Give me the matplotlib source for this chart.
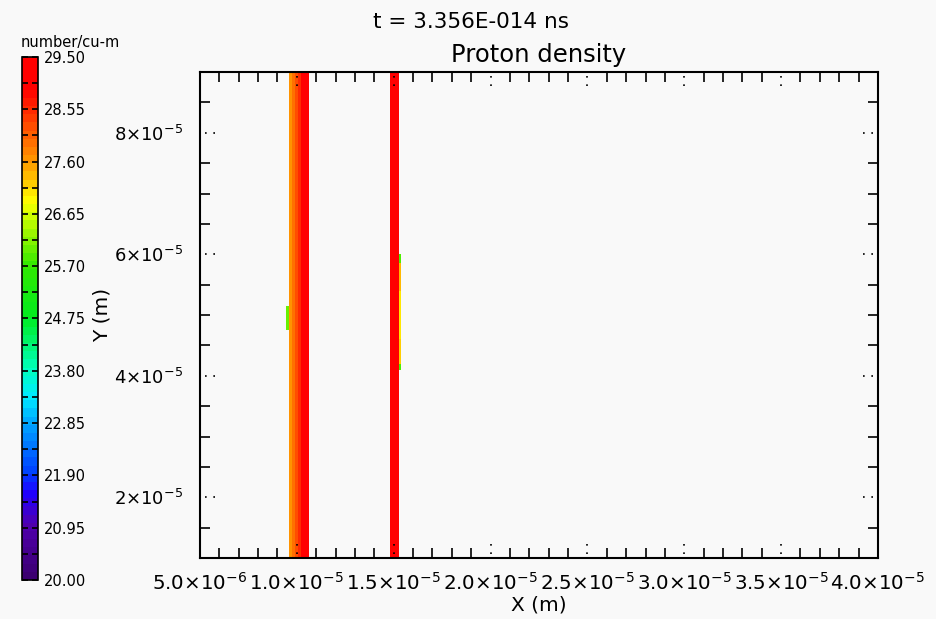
import numpy as np
import matplotlib
matplotlib.use('Agg')
import matplotlib.pyplot as plt
from matplotlib.colors import LinearSegmentedColormap, ListedColormap, Normalize

# colour scale for the density
vmin, vmax = 20.0, 29.5
cbar_ticks = [20.00, 20.95, 21.90, 22.85, 23.80, 24.75, 25.70, 26.65, 27.60, 28.55, 29.50]

# rainbow-like table: purple -> blue -> cyan -> green -> yellow -> red
cmap_nodes = [20.0, 20.95, 21.5, 21.9, 22.85, 23.3, 23.8, 24.75, 25.7, 26.65, 26.9, 27.6, 28.55, 29.0, 29.5]
cmap_colors = ['#3c0070', '#5000b0', '#2000ff', '#0040ff', '#00a8ff', '#00ecff', '#00ffc0',
               '#00ee20', '#30e800', '#d0ff00', '#ffff00', '#ffa000', '#ff3000', '#ff0000', '#ff0000']

# left layer: column edges in x and density per column
layer1_x = [9.6e-6, 9.75e-6, 9.9e-6, 10.05e-6, 10.2e-6, 10.35e-6, 10.5e-6, 10.65e-6]
layer1_vals = [27.7, 27.95, 28.2, 28.6, 29.0, 29.35, 29.3]

# right layer
layer2_x = [14.8e-6, 15.0e-6, 15.25e-6]
layer2_vals = [29.3, 29.4]

layer_y = [1.0e-5, 9.0e-5]

# small patch on the left edge of the left layer
patch1_x = [9.45e-6, 9.6e-6]
patch1_y = [4.75e-5, 5.15e-5]
patch1_vals = [26.0]

# thin patch on the right edge of the right layer
patch2_x = [15.25e-6, 15.4e-6]
patch2_y = [4.1e-5, 4.2e-5, 4.6e-5, 5.4e-5, 5.85e-5, 6.0e-5]
patch2_vals = [25.9, 27.2, 27.0, 27.3, 25.9]

# axis ticks
x_ticks = [5e-6, 10e-6, 15e-6, 20e-6, 25e-6, 30e-6, 35e-6, 40e-6]
x_tick_labels = [r'$5.0{\times}10^{-6}$', r'$1.0{\times}10^{-5}$', r'$1.5{\times}10^{-5}$',
                 r'$2.0{\times}10^{-5}$', r'$2.5{\times}10^{-5}$', r'$3.0{\times}10^{-5}$',
                 r'$3.5{\times}10^{-5}$', r'$4.0{\times}10^{-5}$']
y_ticks = [2e-5, 4e-5, 6e-5, 8e-5]
y_tick_labels = [r'$2{\times}10^{-5}$', r'$4{\times}10^{-5}$', r'$6{\times}10^{-5}$', r'$8{\times}10^{-5}$']

bg = '#f9f9f9'
base = LinearSegmentedColormap.from_list(
    'dens', [((v - vmin) / (vmax - vmin), c) for v, c in zip(cmap_nodes, cmap_colors)])
cmap = ListedColormap(base(np.linspace(0, 1, 64)))
norm = Normalize(vmin=vmin, vmax=vmax)

fig = plt.figure(figsize=(9.37, 6.19), dpi=100, facecolor=bg)
ax = fig.add_axes([0.2134, 0.0985, 0.7236, 0.785], facecolor=bg)

mesh = ax.pcolormesh(layer1_x, layer_y, np.array([layer1_vals]), cmap=cmap, norm=norm)
ax.pcolormesh(layer2_x, layer_y, np.array([layer2_vals]), cmap=cmap, norm=norm)
ax.pcolormesh(patch1_x, patch1_y, np.array([patch1_vals]), cmap=cmap, norm=norm)
ax.pcolormesh(patch2_x, patch2_y, np.array(patch2_vals)[:, None], cmap=cmap, norm=norm)

ax.set_xlim(5e-6, 4e-5)
ax.set_ylim(1e-5, 9e-5)
ax.set_xticks(x_ticks)
ax.set_xticklabels(x_tick_labels)
ax.set_yticks(y_ticks)
ax.set_yticklabels(y_tick_labels)
ax.set_xticks(np.arange(5e-6, 4.01e-5, 1e-6), minor=True)
ax.set_yticks(np.arange(1e-5, 9.01e-5, 5e-6), minor=True)
ax.tick_params(axis='x', which='major', length=0, pad=10, labelsize=14.3)
ax.tick_params(axis='y', which='major', length=0, pad=12, labelsize=13)
ax.tick_params(which='minor', direction='in', length=7, width=1.2,
               top=True, right=True, color='k')
for s in ax.spines.values():
    s.set_linewidth(1.5)

# major ticks drawn as short dotted marks on all four sides
xt = ax.get_xaxis_transform()
yt = ax.get_yaxis_transform()
for x in x_ticks:
    ax.plot([x, x], [0.008, 0.03], ls=(0, (1, 4)), color='k', lw=1.2, transform=xt, clip_on=False)
    ax.plot([x, x], [0.992, 0.97], ls=(0, (1, 4)), color='k', lw=1.2, transform=xt, clip_on=False)
for y in y_ticks:
    ax.plot([0.008, 0.025], [y, y], ls=(0, (1, 4)), color='k', lw=1.2, transform=yt, clip_on=False)
    ax.plot([0.992, 0.975], [y, y], ls=(0, (1, 4)), color='k', lw=1.2, transform=yt, clip_on=False)

ax.set_xlabel('X (m)', fontsize=14.5, labelpad=1)
ax.set_ylabel('Y (m)', fontsize=14.5, labelpad=2)
ax.set_title('Proton density', fontsize=17.5, pad=7)
fig.text(0.503, 0.964, 't = 3.356E-014 ns', ha='center', va='center', fontsize=15.5)

# colour bar on the far left
cax = fig.add_axes([0.0235, 0.063, 0.0171, 0.845])
cb = fig.colorbar(mesh, cax=cax)
cb.set_ticks(cbar_ticks)
cb.set_ticklabels(['%.2f' % v for v in cbar_ticks])
cax.set_yticks(np.arange(vmin, vmax + 0.01, 0.475), minor=True)
cax.tick_params(which='both', direction='in', length=4, width=1.2, left=True, right=True,
                labelsize=10.5, pad=4)
cb.outline.set_linewidth(1.2)
fig.text(0.022, 0.932, 'number/cu-m', ha='left', va='center', fontsize=10.5)

fig.savefig('out.png', dpi=100, facecolor=bg)
